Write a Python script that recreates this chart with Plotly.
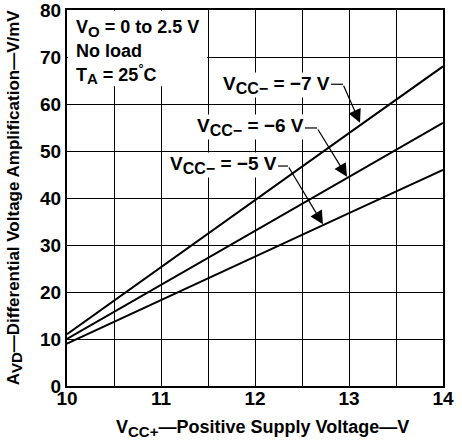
import plotly.graph_objects as go

# Data
vcc_pos = [10, 11, 12, 13, 14]
avd_m7 = [11.0, 25.3, 39.6, 53.8, 68.0]
avd_m6 = [10.0, 21.5, 33.0, 44.5, 56.0]
avd_m5 = [9.0, 18.3, 27.5, 36.8, 46.0]
series_values = ["−7 V", "−6 V", "−5 V"]
x_ticks = [10, 11, 12, 13, 14]
y_ticks = [0, 10, 20, 30, 40, 50, 60, 70, 80]

FONT = "Liberation Sans, Arial, Helvetica, sans-serif"


def sub(s, px=15):
    return '<sub><span style="font-size:%dpx">' % px + s + "</span></sub>"


fig = go.Figure()
for ys in (avd_m7, avd_m6, avd_m5):
    fig.add_trace(go.Scatter(x=vcc_pos, y=ys, mode="lines",
                             line=dict(color="black", width=2),
                             showlegend=False, hoverinfo="skip"))

# white box behind the conditions text (blanks gridlines)
fig.add_shape(type="rect", xref="x", yref="y", x0=10.01, x1=11.49, y0=63.8, y1=79.9,
              fillcolor="white", line=dict(width=0), layer="between")

cond_lines = ["V" + sub("O") + " = 0 to 2.5 V", "No load",
              "T" + sub("A") + " = 25<sup>°</sup>C"]
cond_y = [76.0, 71.3, 66.3]
for t, yy in zip(cond_lines, cond_y):
    fig.add_annotation(x=10.07, y=yy, xref="x", yref="y", text=t, showarrow=False,
                       xanchor="left", yanchor="middle",
                       font=dict(family=FONT, size=18, color="black", weight="bold"))

# series labels with leader lines and arrows
label_end = [(12.81, 64.0), (12.53, 55.1), (12.245, 47.0)]
bends = [(12.936, 64.2), (12.66, 54.9), (12.351, 46.8)]
tips = [(13.117, 56.0), (12.979, 44.5), (12.723, 34.4)]
for val, (tx, ty), (bx, by), (px, py) in zip(series_values, label_end, bends, tips):
    lab = "V" + sub("CC−", 16) + " = " + val
    fig.add_annotation(x=tx, y=ty, xref="x", yref="y", text=lab, showarrow=False,
                       xanchor="right", yanchor="middle", bgcolor="white",
                       borderpad=0,
                       font=dict(family=FONT, size=19, color="black", weight="bold"))
    fig.add_shape(type="line", xref="x", yref="y", x0=tx, y0=by, x1=bx, y1=by,
                  line=dict(color="black", width=1.2), layer="above")
    fig.add_annotation(x=px, y=py, ax=bx, ay=by, xref="x", yref="y", axref="x", ayref="y",
                       text="", showarrow=True, arrowhead=2, arrowsize=2.2,
                       arrowwidth=1.2, arrowcolor="black", standoff=0)

# axis titles
fig.add_annotation(x=0.519, y=-0.112, xref="paper", yref="paper", showarrow=False,
                   xanchor="center", yanchor="middle",
                   text="V" + sub("CC+") + "—Positive Supply Voltage—V",
                   font=dict(family=FONT, size=18, color="black", weight="bold"))
fig.add_annotation(x=-0.138, y=0.502, xref="paper", yref="paper", showarrow=False,
                   xanchor="center", yanchor="middle", textangle=-90,
                   text="A" + sub("VD") + "—Differential Voltage Amplification—V/mV",
                   font=dict(family=FONT, size=17, color="black", weight="bold"))

x_grid = [10 + 0.5 * i for i in range(9)]
x_text = [str(int(v)) if v in x_ticks else "" for v in x_grid]

fig.update_xaxes(range=[10, 14], tickmode="array", tickvals=x_grid, ticktext=x_text,
                 showgrid=True, gridcolor="black", gridwidth=1,
                 showline=True, linecolor="black", linewidth=2, automargin=False,
                 mirror=True, zeroline=False, ticks="", ticklabelstandoff=-6,
                 ticklabeloverflow="allow",
                 tickfont=dict(family=FONT, size=19, color="black", weight="bold"))
fig.update_yaxes(range=[0, 80], tickvals=y_ticks, showgrid=True, gridcolor="black",
                 gridwidth=1, showline=True, linecolor="black", linewidth=2,
                 mirror=True, zeroline=False, ticks="", ticklabelstandoff=0, automargin=False,
                 ticklabeloverflow="allow",
                 tickfont=dict(family=FONT, size=19, color="black", weight="bold"))

fig.update_layout(width=462, height=440, margin=dict(l=67, r=19, t=10, b=54),
                  plot_bgcolor="white", paper_bgcolor="white")

# remove the browser's default 8px body margin so the figure fills the window
fig.write_html("out.html", config={"displayModeBar": False},
               post_script="document.body.style.margin='0';")
